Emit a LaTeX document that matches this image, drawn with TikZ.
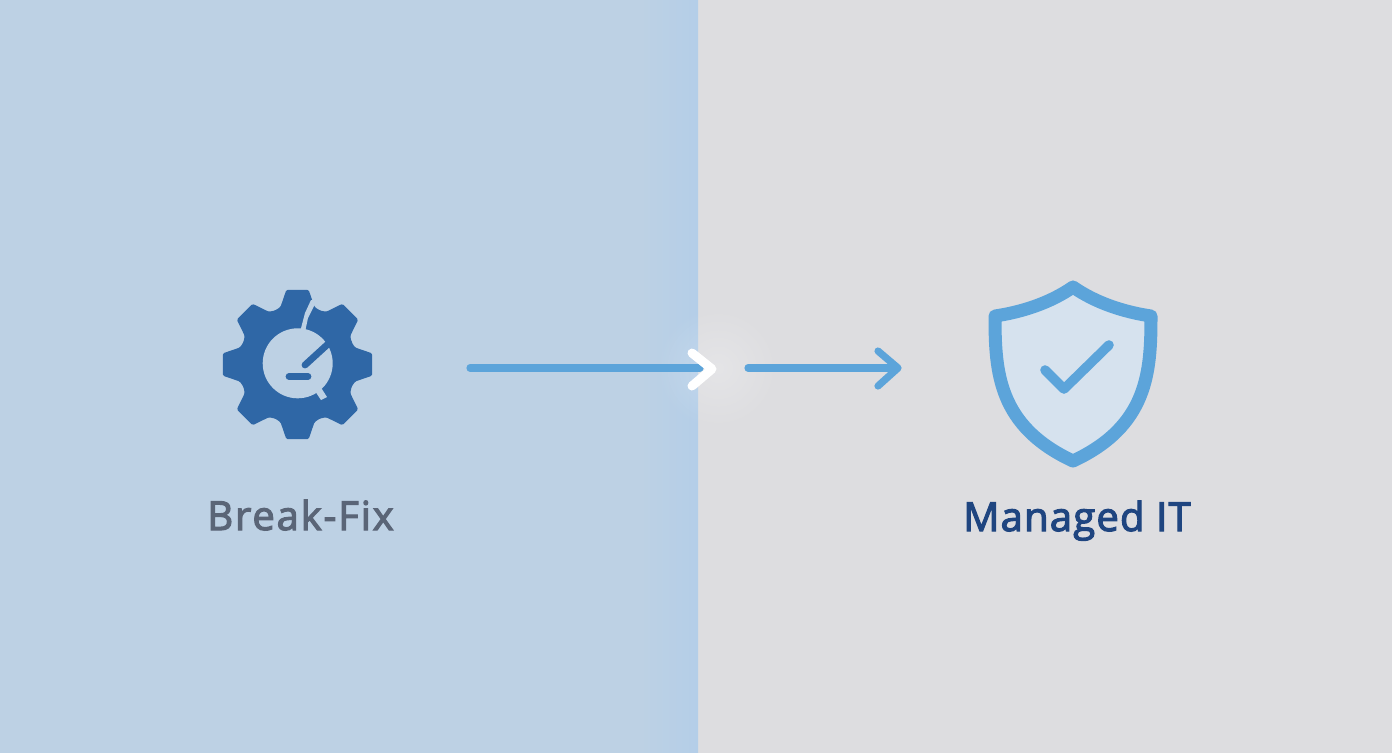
\documentclass[tikz,border=0pt]{standalone}
\usepackage{fontspec}
\setmainfont{Open Sans}[FakeBold=3,LetterSpace=3]
\newfontfamily\lableft{Open Sans}[FakeBold=3,LetterSpace=4.6]
\usetikzlibrary{fadings}
\definecolor{panelL}{HTML}{BDD1E4}
\definecolor{panelR}{HTML}{DDDDE0}
\definecolor{edgeL}{HTML}{B4CEE8}
\definecolor{gearC}{HTML}{2F67A6}
\definecolor{lineC}{HTML}{5CA4DA}
\definecolor{shieldF}{HTML}{D6E2EE}
\definecolor{txtL}{HTML}{5A6577}
\definecolor{txtR}{HTML}{1F4580}
\tikzfading[name=glowfade, inner color=transparent!35, outer color=transparent!100]
\tikzset{
  x=0.5pt,y=-0.5pt,
  flow/.style={draw=lineC,line width=3.6pt,line cap=round,line join=round},
  chev/.style={draw=white,line width=4.5pt,line cap=round,line join=round},
  gearpart/.style={fill=gearC},
  gearcut/.style={fill=panelL},
  gearstroke/.style={draw=gearC,line width=3.4pt,line cap=round},
  label/.style={font=\fontsize{20}{24}\selectfont,inner sep=0pt,anchor=base},
}
\begin{document}
\begin{tikzpicture}
\useasboundingbox (0,0) rectangle (1392,752);
% panels
\fill[panelL] (-2,-2) rectangle (698,754);
\fill[panelR] (698,-2) rectangle (1394,754);
\shade[left color=panelL,right color=edgeL] (640,-2) rectangle (698,754);
% glow
\fill[white,path fading=glowfade,opacity=.35] (718,368) circle (62);
% gear
\fill[gearpart,rounded corners=0.7pt,shift={(297.5,364.5)}]
  (-22.5:58.5)
  \foreach \a in {0,45,...,315}{
    -- (\a-22.5:58.5) -- (\a-16.5:60) -- (\a-8.5:75.5) -- (\a+8.5:75.5) -- (\a+16.5:60)
  } -- cycle;
\node[circle,fill=panelL,minimum size=35pt,inner sep=0pt] (hole) at (297.7,363.3) {};
\fill[gearcut] (311,300) -- (305,313) -- (300,332) -- (305,332) -- (308,318) -- (314,306) -- (316,300) -- cycle;
\fill[gearcut] (313,388) -- (321,400) -- (327,397) -- (320,386) -- cycle;
\coordinate (n1) at (305,365);
\coordinate (n2) at (328,344);
\coordinate (m1) at (289,376.5);
\coordinate (m2) at (308,376.5);
\draw[gearstroke] (n1) -- (n2);
\draw[gearstroke] (m1) -- (m2);
% connectors
\coordinate (a1) at (470,368);
\coordinate (a2) at (700,368);
\coordinate (b1) at (748,368);
\coordinate (b2) at (897,368);
\draw[flow] (a1) -- (a2);
\draw[chev] (692,353) -- (712,369) -- (692,386);
\draw[flow] (b1) -- (b2);
\draw[flow] (878,351) -- (898,368) -- (878,386);
% shield
\draw[draw=lineC,fill=shieldF,line width=6.5pt,line join=round]
  (1073,287) .. controls (1050,303) and (1022,312) .. (995,316)
  .. controls (995,372) and (998,426) .. (1073,461)
  .. controls (1148,426) and (1151,372) .. (1151,316)
  .. controls (1124,312) and (1096,303) .. (1073,287) -- cycle;
\coordinate (c1) at (1045,370);
\coordinate (c2) at (1064,389);
\coordinate (c3) at (1109,345);
\draw[draw=lineC,line width=4.8pt,line cap=round,line join=round] (c1) -- (c2) -- (c3);
% labels
\node[label,text=txtL,font=\fontsize{20}{24}\lableft] (breakfix) at (300.5,530) {Break-Fix};
\node[label,text=txtR] (managed) at (1077,531) {Managed IT};
\end{tikzpicture}
\end{document}
